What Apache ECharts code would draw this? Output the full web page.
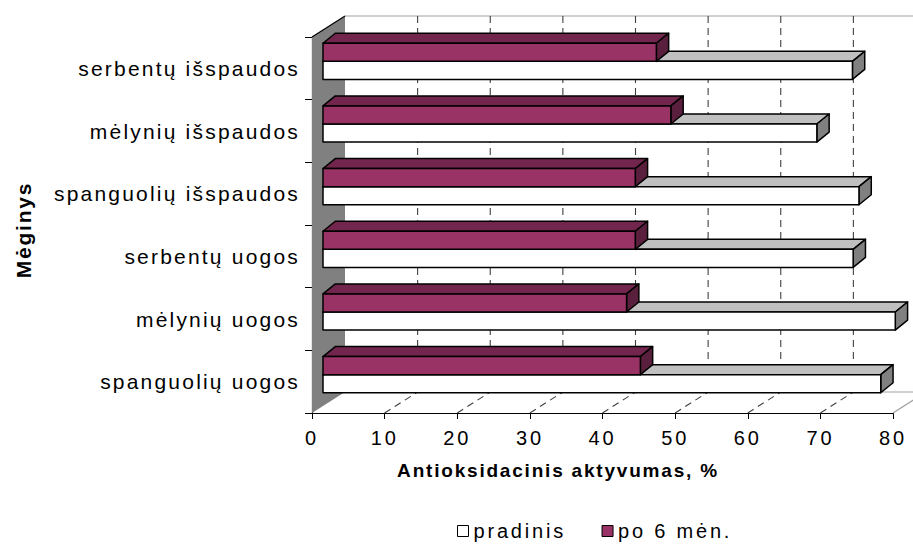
<!DOCTYPE html>
<html>
<head>
<meta charset="utf-8">
<script src="https://cdn.jsdelivr.net/npm/echarts@6/dist/echarts.min.js"></script>
<style>
  html, body { margin: 0; padding: 0; background: #ffffff; }
  #chart { width: 913px; height: 544px; }
  #chart text { letter-spacing: 2.8px; }
  #chart text[style*="21px"] { letter-spacing: 2.2px; }
  #chart text[style*="bold"] { letter-spacing: 1.8px; }
</style>
</head>
<body>
<div id="chart"></div>
<script>
// Samples, top to bottom
const categories = [
  'serbentų išspaudos',
  'mėlynių išspaudos',
  'spanguolių išspaudos',
  'serbentų uogos',
  'mėlynių uogos',
  'spanguolių uogos'
];
// Antioxidant activity, %
const pradinis = [72.9, 68.0, 73.8, 73.0, 78.8, 76.8];
const po6men = [45.9, 47.9, 43.0, 43.0, 41.8, 43.7];
const seriesNames = ['pradinis', 'po 6 mėn.'];
const xTicks = [0, 10, 20, 30, 40, 50, 60, 70, 80];

// Oblique 3D look: depth of the side wall / floor, and of each bar box
const WALL_DX = 33, WALL_DY = -21;
const BAR_SHIFT_X = 11, BAR_SHIFT_Y = -7;   // bars stand a third of the way into the floor
const BAR_DX = 12.3, BAR_DY = -10;
const BAR_FRAC = 0.288;                     // bar thickness relative to the category band

const FONT = '"Liberation Sans", Arial, sans-serif';

const palettes = {
  white: { front: '#ffffff', top: '#c0c0c0', side: '#808080' },
  plum:  { front: '#993366', top: '#73264d', side: '#5a1f3d' }
};

function boxRenderer(palette, upper) {
  return function (params, api) {
    const val = api.value(0), cat = api.value(1);
    const base = api.coord([0, cat]);
    const band = api.size([0, 1])[1];
    const h = band * BAR_FRAC;
    const x0 = base[0] + BAR_SHIFT_X;
    const x1 = api.coord([val, cat])[0] + BAR_SHIFT_X;
    const mid = base[1] + BAR_SHIFT_Y;
    const yTop = upper ? mid - h : mid;
    const yBot = yTop + h;
    const edge = { stroke: '#000000', lineWidth: 1.5, lineJoin: 'round' };
    return {
      type: 'group',
      children: [
        { type: 'polygon',
          shape: { points: [[x0, yTop], [x1, yTop], [x1 + BAR_DX, yTop + BAR_DY], [x0 + BAR_DX, yTop + BAR_DY]] },
          style: Object.assign({ fill: palette.top }, edge) },
        { type: 'polygon',
          shape: { points: [[x1, yTop], [x1 + BAR_DX, yTop + BAR_DY], [x1 + BAR_DX, yBot + BAR_DY], [x1, yBot]] },
          style: Object.assign({ fill: palette.side }, edge) },
        { type: 'rect',
          shape: { x: x0, y: yTop, width: x1 - x0, height: h },
          style: Object.assign({ fill: palette.front }, edge) }
      ]
    };
  };
}

// Side wall, back wall grid and floor
function frameRenderer(params, api) {
  const band = api.size([0, 1])[1];
  const top = api.coord([0, 0])[1] - band / 2;
  const bottom = api.coord([0, categories.length - 1])[1] + band / 2;
  const xl = api.coord([xTicks[0], 0])[0];
  const xr = api.coord([xTicks[xTicks.length - 1], 0])[0];
  const gray = { stroke: '#a0a0a0', lineWidth: 1.2 };
  const dash = { stroke: '#404040', lineWidth: 1.1, lineDash: [7, 5] };
  const children = [
    { type: 'polygon',
      shape: { points: [[xl, top], [xl + WALL_DX, top + WALL_DY], [xl + WALL_DX, bottom + WALL_DY], [xl, bottom]] },
      style: { fill: '#808080' } },
    { type: 'line', shape: { x1: xl + WALL_DX, y1: top + WALL_DY, x2: xr + WALL_DX + 40, y2: top + WALL_DY }, style: gray },
    { type: 'line', shape: { x1: xl + WALL_DX, y1: bottom + WALL_DY, x2: xr + WALL_DX + 40, y2: bottom + WALL_DY }, style: gray },
    { type: 'line', shape: { x1: xr, y1: bottom, x2: xr + WALL_DX, y2: bottom + WALL_DY }, style: gray }
  ];
  xTicks.slice(1, -1).forEach(function (t) {
    const x = api.coord([t, 0])[0];
    children.push({ type: 'line', shape: { x1: x + WALL_DX, y1: top + WALL_DY, x2: x + WALL_DX, y2: bottom + WALL_DY }, style: dash });
    children.push({ type: 'line', shape: { x1: x, y1: bottom, x2: x + WALL_DX, y2: bottom + WALL_DY }, style: dash });
  });
  children.push({ type: 'line', shape: { x1: xl, y1: top, x2: xl + WALL_DX, y2: top + WALL_DY }, style: { stroke: '#000000', lineWidth: 1.2 } });
  return { type: 'group', children: children };
}

const chart = echarts.init(document.getElementById('chart'), null, { renderer: 'svg' });

chart.setOption({
  backgroundColor: '#ffffff',
  animation: false,
  textStyle: { fontFamily: FONT, color: '#000000' },
  grid: { left: 312, right: 20, top: 37, bottom: 131, outerBoundsMode: 'none', containLabel: false },
  xAxis: {
    type: 'value',
    min: 0, max: 80, interval: 10,
    name: 'Antioksidacinis aktyvumas, %',
    nameLocation: 'middle',
    nameGap: 48,
    nameTextStyle: { fontFamily: FONT, fontWeight: 'bold', fontSize: 19, color: '#000000', padding: [0, 89, 0, 0] },
    axisLine: { show: true, lineStyle: { color: '#000000', width: 1.2 } },
    axisTick: { show: true, length: 6, lineStyle: { color: '#000000' } },
    axisLabel: { fontFamily: FONT, fontSize: 20, color: '#000000', margin: 15 },
    splitLine: { show: false }
  },
  yAxis: {
    type: 'category',
    data: categories,
    inverse: true,
    name: 'Mėginys',
    nameLocation: 'middle',
    nameGap: 278,
    nameTextStyle: { fontFamily: FONT, fontWeight: 'bold', fontSize: 21, color: '#000000', padding: [0, 10, 0, 0] },
    axisLine: { show: true, lineStyle: { color: '#000000', width: 1.2 } },
    axisTick: { show: true, length: 7, lineStyle: { color: '#000000' } },
    axisLabel: { fontFamily: FONT, fontSize: 21, color: '#000000', margin: 12 },
    splitLine: { show: false }
  },
  legend: {
    left: 452, top: 516,
    itemWidth: 11, itemHeight: 11, itemGap: 58,
    icon: 'rect',
    textStyle: { fontFamily: FONT, fontSize: 20, color: '#000000' },
    data: [
      { name: seriesNames[0], itemStyle: { color: palettes.white.front, borderColor: '#000000', borderWidth: 1 } },
      { name: seriesNames[1], itemStyle: { color: palettes.plum.front, borderColor: '#000000', borderWidth: 1 } }
    ]
  },
  series: [
    { type: 'custom', name: 'frame', silent: true, z: 1,
      renderItem: frameRenderer, data: [[0, 0]], encode: { x: 0, y: 1 } },
    { type: 'custom', name: seriesNames[0], z: 2,
      itemStyle: { color: palettes.white.front, borderColor: '#000000' },
      renderItem: boxRenderer(palettes.white, false),
      data: pradinis.map(function (v, i) { return [v, i]; }), encode: { x: 0, y: 1 } },
    { type: 'custom', name: seriesNames[1], z: 3,
      itemStyle: { color: palettes.plum.front, borderColor: '#000000' },
      renderItem: boxRenderer(palettes.plum, true),
      data: po6men.map(function (v, i) { return [v, i]; }), encode: { x: 0, y: 1 } }
  ]
});
</script>
</body>
</html>
